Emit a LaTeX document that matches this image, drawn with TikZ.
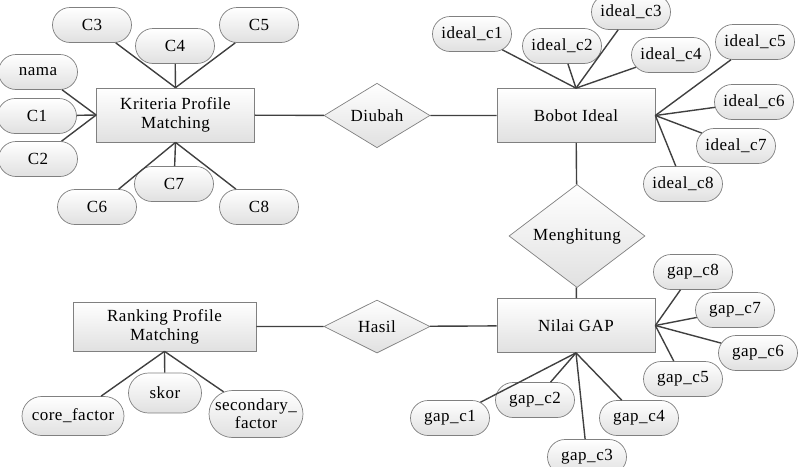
\documentclass[tikz,border=0pt]{standalone}
\usepackage{fontspec}
\setmainfont{Liberation Serif}
\newfontfamily\diafont[LetterSpace=3]{Liberation Serif}
\usetikzlibrary{shapes.geometric,shapes.misc}
\tikzset{
  base/.style={draw=black!50, line width=0.7pt, font=\diafont\fontsize{17}{19}\selectfont, align=center, inner sep=2pt},
  ent/.style={base, rectangle, top color=white, bottom color=black!12, minimum width=158pt, minimum height=54pt},
  rel/.style={base, diamond, top color=white, bottom color=black!12, minimum width=106pt, minimum height=53pt, inner sep=0pt},
  attr/.style={base, rounded rectangle, top color=white, bottom color=black!12, minimum width=81pt, minimum height=35pt, inner sep=1pt},
  link/.style={draw=black!75, line width=1.4pt}
}
\begin{document}
\begin{tikzpicture}[x=1pt,y=-1pt]
\useasboundingbox (0,0) rectangle (800,466);
% entities
\node[ent] (k) at (175.5,115) {Kriteria Profile\\Matching};
\node[ent] (b) at (576,115.5) {Bobot Ideal};
\node[ent] (n) at (576,325.5) {Nilai GAP};
\node[ent, minimum width=183pt, minimum height=49pt] (r) at (164.5,326.5) {Ranking Profile\\Matching};
% relations
\node[rel] (d) at (377,115.5) {Diubah};
\node[rel] (h) at (377,326.5) {Hasil};
\node[rel, minimum width=136pt, minimum height=66pt] (m) at (577,236) {Menghitung};
% attributes of Kriteria
\node[attr] (c3) at (92,25) {C3};
\node[attr] (c4) at (175,46) {C4};
\node[attr] (c5) at (259,25) {C5};
\node[attr] (nama) at (38,72) {nama};
\node[attr] (c1) at (37,116) {C1};
\node[attr] (c2) at (38,159) {C2};
\node[attr] (c6) at (97,207) {C6};
\node[attr] (c7) at (174,184) {C7};
\node[attr] (c8) at (259,207) {C8};
% attributes of Bobot Ideal
\node[attr] (i1) at (472,34) {ideal\_c1};
\node[attr] (i2) at (562,46) {ideal\_c2};
\node[attr] (i3) at (631,12) {ideal\_c3};
\node[attr] (i4) at (671,55) {ideal\_c4};
\node[attr] (i5) at (755,42) {ideal\_c5};
\node[attr] (i6) at (754,102) {ideal\_c6};
\node[attr] (i7) at (736,146) {ideal\_c7};
\node[attr] (i8) at (683,184) {ideal\_c8};
% attributes of Nilai GAP
\node[attr] (g1) at (450,418) {gap\_c1};
\node[attr] (g2) at (535,400) {gap\_c2};
\node[attr] (g3) at (587,457) {gap\_c3};
\node[attr] (g4) at (639,418) {gap\_c4};
\node[attr] (g5) at (683,379) {gap\_c5};
\node[attr] (g6) at (758,353) {gap\_c6};
\node[attr] (g7) at (735,310) {gap\_c7};
\node[attr] (g8) at (693,272) {gap\_c8};
% attributes of Ranking
\node[attr, minimum width=104pt, minimum height=39pt] (cf) at (73,416) {core\_factor};
\node[attr, minimum width=75pt, minimum height=40pt] (sk) at (165,393) {skor};
\node[attr, minimum width=96pt, minimum height=47pt, font=\diafont\fontsize{17}{18}\selectfont] (sf) at (256,414) {secondary\_\\factor};
% links
\draw[link] (k) -- (d) (d) -- (b);
\draw[link] (r) -- (h) (h) -- (n);
\draw[link] (b) -- (m) (m) -- (n);
\foreach \a in {c3,c4,c5} \draw[link] (\a) -- (k.north);
\foreach \a in {nama,c1,c2} \draw[link] (\a) -- (k.west);
\foreach \a in {c6,c7,c8} \draw[link] (\a) -- (k.south);
\foreach \a in {i1,i2,i3,i4} \draw[link] (\a) -- (b.north);
\foreach \a in {i5,i6,i7,i8} \draw[link] (\a) -- (b.east);
\foreach \a in {g1,g2,g3,g4} \draw[link] (\a) -- (n.south);
\foreach \a in {g5,g6,g7,g8} \draw[link] (\a) -- (n.east);
\foreach \a in {cf,sk,sf} \draw[link] (\a) -- (r.south);
\end{tikzpicture}
\end{document}
